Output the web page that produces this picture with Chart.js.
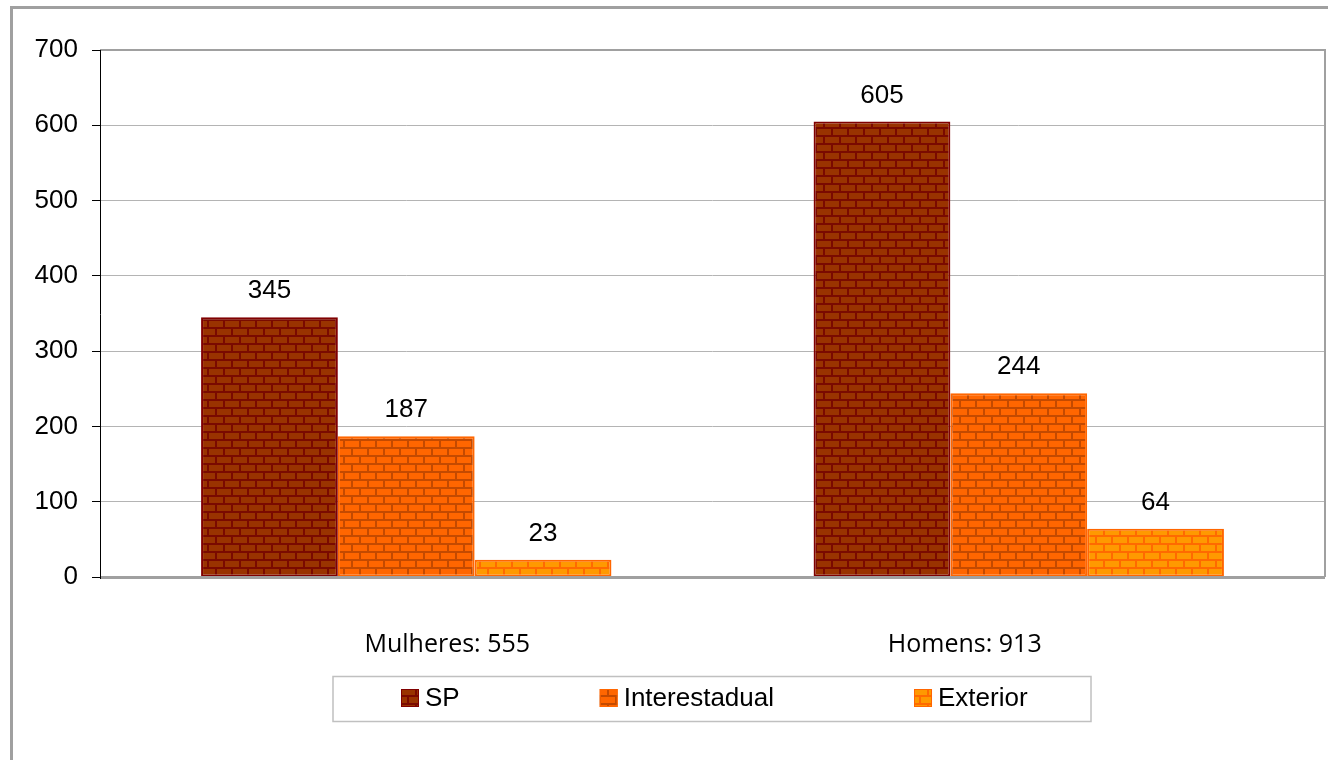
<!DOCTYPE html>
<html>
<head>
<meta charset="utf-8">
<script src="https://cdn.jsdelivr.net/npm/chart.js@4.4.1/dist/chart.umd.min.js"></script>
<style>
  html, body { margin: 0; padding: 0; background: #fff; }
  #wrap { width: 1328px; height: 760px; position: relative; }
</style>
</head>
<body>
<div id="wrap"><canvas id="cv" width="1328" height="760"></canvas></div>
<script>
// categories and series
const groups = ['Mulheres: 555', 'Homens: 913'];
const seriesNames = ['SP', 'Interestadual', 'Exterior'];
const spValues = [345, 605];
const interValues = [187, 244];
const extValues = [23, 64];
const yTicks = [0, 100, 200, 300, 400, 500, 600, 700];

// brick colours: [brick, mortar, edge]
const brickColors = [
  ['#993300', '#7a0a00', '#800000'],
  ['#ff6600', '#c44a00', '#ff6600'],
  ['#ff9900', '#ff6a00', '#ff6600']
];

const ARIAL = '"Liberation Sans", Arial, sans-serif';

// small tiled brick wall used as the bar fill
function brickPattern(brick, mortar) {
  const c = document.createElement('canvas');
  c.width = 16; c.height = 16;
  const g = c.getContext('2d');
  g.fillStyle = mortar;
  g.fillRect(0, 0, 16, 16);
  g.fillStyle = brick;
  g.fillRect(1, 1, 14, 6);
  g.fillRect(9, 9, 14, 6);
  g.fillRect(-7, 9, 14, 6);
  return g.createPattern(c, 'repeat');
}

const fills = brickColors.map(c => brickPattern(c[0], c[1]));
const values = [spValues, interValues, extValues];

// outer frame and plot frame
const framePlugin = {
  id: 'frame',
  beforeDraw(chart) {
    const ctx = chart.ctx;
    ctx.save();
    ctx.fillStyle = '#fff';
    ctx.fillRect(0, 0, chart.width, chart.height);
    ctx.strokeStyle = '#a0a0a0';
    ctx.lineWidth = 3;
    ctx.strokeRect(11.5, 7.5, 1400, 800);
    ctx.restore();
  },
  afterDraw(chart) {
    const a = chart.chartArea, ctx = chart.ctx;
    ctx.save();
    ctx.strokeStyle = '#a0a0a0';
    ctx.lineWidth = 2;
    ctx.beginPath();
    ctx.moveTo(a.left, a.top);
    ctx.lineTo(a.right, a.top);
    ctx.lineTo(a.right, a.bottom);
    ctx.stroke();
    ctx.beginPath();
    ctx.lineWidth = 3;
    ctx.moveTo(a.left, a.bottom + 0.5);
    ctx.lineTo(a.right, a.bottom + 0.5);
    ctx.stroke();
    ctx.strokeStyle = '#000';
    ctx.lineWidth = 1;
    ctx.beginPath();
    ctx.moveTo(a.left + 0.5, a.top);
    ctx.lineTo(a.left + 0.5, a.bottom + 2);
    ctx.stroke();
    ctx.restore();
  }
};

// value labels above each bar, category labels under the axis
const textLabels = {
  id: 'textLabels',
  afterDatasetsDraw(chart) {
    const ctx = chart.ctx;
    ctx.save();
    ctx.font = '26px ' + ARIAL;
    ctx.fillStyle = '#000';
    ctx.textAlign = 'center';
    ctx.textBaseline = 'middle';
    chart.data.datasets.forEach((ds, i) => {
      chart.getDatasetMeta(i).data.forEach((bar, j) => {
        ctx.fillText(String(ds.data[j]), bar.x, bar.y - 26);
      });
    });
    // category names sit a little off their group centres
    const shift = [41, -54];
    const xs = chart.scales.x;
    ctx.font = '25px "Open Sans", sans-serif';
    chart.data.labels.forEach((lab, i) => {
      ctx.fillText(lab, xs.getPixelForValue(i) + shift[i], 645);
    });
    ctx.restore();
  }
};

// boxed legend under the category labels
const boxLegend = {
  id: 'boxLegend',
  afterDraw(chart) {
    const ctx = chart.ctx;
    ctx.save();
    ctx.strokeStyle = '#c0c0c0';
    ctx.lineWidth = 1.5;
    ctx.strokeRect(333, 676.5, 758, 45);
    ctx.font = '26px ' + ARIAL;
    ctx.textBaseline = 'middle';
    let x = 401;
    const cy = 698;
    chart.data.datasets.forEach((ds, i) => {
      ctx.fillStyle = ds.backgroundColor;
      ctx.fillRect(x, cy - 9, 18, 18);
      ctx.strokeStyle = ds.borderColor;
      ctx.lineWidth = 1;
      ctx.strokeRect(x + 0.5, cy - 8.5, 17, 17);
      ctx.fillStyle = '#000';
      ctx.fillText(ds.label, x + 24, cy + 1);
      x += 24 + ctx.measureText(ds.label).width + 140;
    });
    ctx.restore();
  }
};

new Chart(document.getElementById('cv'), {
  type: 'bar',
  data: {
    labels: groups,
    datasets: seriesNames.map((name, i) => ({
      label: name,
      data: values[i],
      backgroundColor: fills[i],
      borderColor: brickColors[i][2],
      borderWidth: 2,
      borderSkipped: false,
      categoryPercentage: 0.67,
      barPercentage: 1.0
    }))
  },
  options: {
    responsive: false,
    animation: false,
    layout: { padding: { left: 0, top: 50, right: 3, bottom: 183 } },
    plugins: {
      legend: { display: false },
      tooltip: { enabled: false }
    },
    scales: {
      x: {
        grid: { display: false },
        border: { display: false },
        ticks: { display: false },
        afterFit(scale) { scale.height = 0; }
      },
      y: {
        min: 0,
        max: 700,
        afterBuildTicks(scale) { scale.ticks = yTicks.map(v => ({ value: v })); },
        grid: { color: '#b4b4b4', lineWidth: 1, tickColor: '#000', tickLength: 8 },
        border: { display: false },
        ticks: {
          color: '#000',
          padding: 14,
          font: { family: ARIAL, size: 26 }
        },
        afterFit(scale) { scale.width = 100; }
      }
    }
  },
  plugins: [framePlugin, textLabels, boxLegend]
});
</script>
</body>
</html>
